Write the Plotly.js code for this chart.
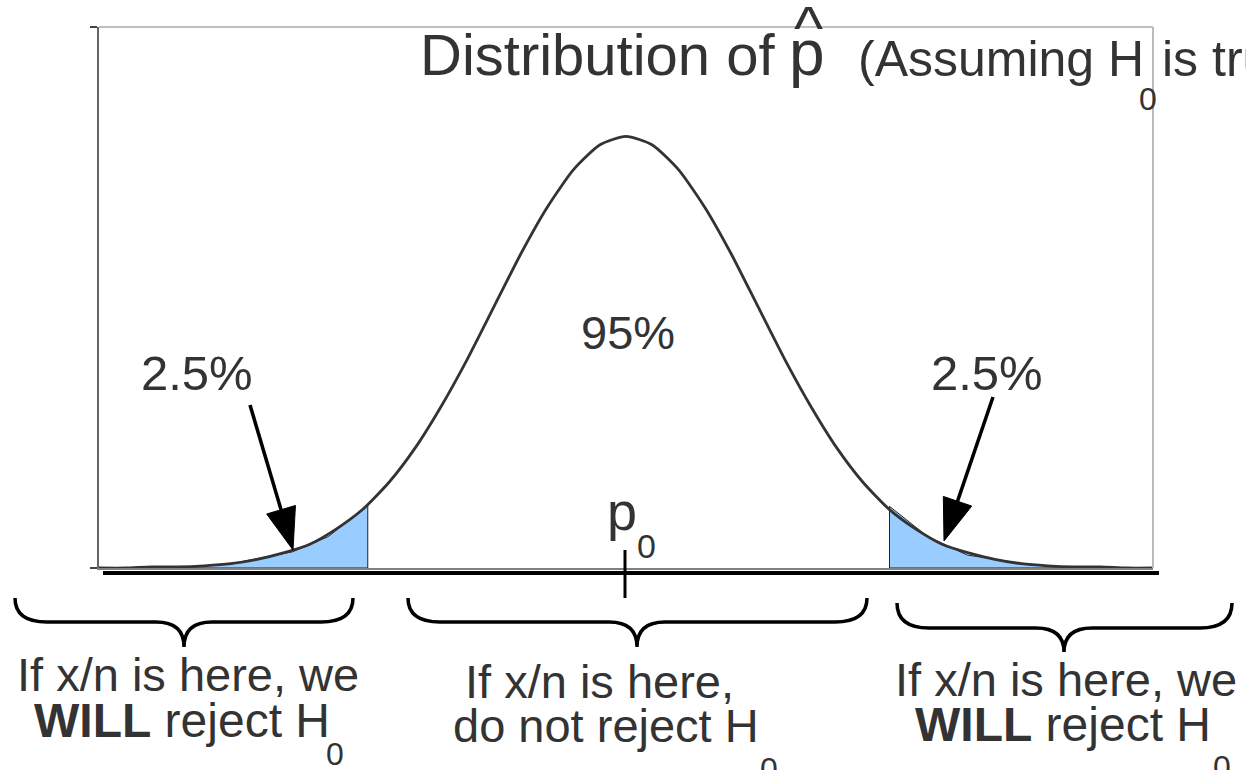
<!DOCTYPE html>
<html>
<head>
<meta charset="utf-8">
<script src="https://cdn.plot.ly/plotly-3.0.1.min.js"></script>
<style>html,body{margin:0;padding:0;background:#fff;}#chart{width:1246px;height:770px;}</style>
</head>
<body>
<div id="chart"></div>
<script>
// ---- data (x in standard-error units around p0, y = density) ----
const curveZ = [-4.0,-3.8,-3.6,-3.4,-3.2,-3.0,-2.8,-2.6,-2.4,-2.2,-2.0,-1.8,-1.6,-1.4,-1.2,-1.0,-0.8,-0.6,-0.4,-0.2,0,
                0.2,0.4,0.6,0.8,1.0,1.2,1.4,1.6,1.8,2.0,2.2,2.4,2.6,2.8,3.0,3.2,3.4,3.6,3.8,4.0];
const curveY = [0.000,0.000,0.001,0.001,0.002,0.004,0.008,0.014,0.022,0.036,0.054,0.079,0.111,0.150,0.194,0.242,0.290,0.333,0.368,0.391,0.399,
                0.391,0.368,0.333,0.290,0.242,0.194,0.150,0.111,0.079,0.054,0.036,0.022,0.014,0.008,0.004,0.002,0.001,0.001,0.000,0.000];
const leftTailZ  = [-3.4, -3.0, -2.53, -2.26, -1.96, -1.96, -3.4];
const leftTailY  = [0, 0.004, 0.015, 0.029, 0.058, 0, 0];
const rightTailZ = [2.0, 2.0, 2.29, 2.59, 3.07, 3.45, 2.0];
const rightTailY = [0, 0.057, 0.029, 0.012, 0.003, 0, 0];
const centreLabel = "95%";
const tailLabel = "2.5%";
const titleMain = "Distribution of";
const titleP = "p";
const titleHat = "^";
const titleNote = "(Assuming H";
const titleNoteEnd = "is true)";
const regionLine1 = ["If x/n is here, we", "If x/n is here,", "If x/n is here, we"];
const regionLine2 = ["<b>WILL</b> reject H", "do not reject H", "<b>WILL</b> reject H"];

// ---- layout geometry (pixels) ----
const L = 99, T = 27, W = 1054, H = 541;
const px = x => (x - L) / W;
const py = y => (T + H - y) / H;
const FONT = "Liberation Sans, Arial, sans-serif";
const INK = "#333";

function txt(text, x, baseline, size, anchor, color) {
  return {text: text, x: px(x), y: py(baseline - 0.3465 * size), xref: "paper", yref: "paper",
          xanchor: anchor || "center", yanchor: "middle", showarrow: false,
          font: {family: FONT, size: size, color: color || INK}};
}

function brace(x0, x1, xm, y0, yh, yc) {
  const P = (x, y) => px(x).toFixed(5) + "," + py(y).toFixed(5);
  const d = "M" + P(x0, y0) + " Q" + P(x0, yh) + " " + P(x0 + 32, yh) +
            " L" + P(xm - 28, yh) + " Q" + P(xm, yh) + " " + P(xm, yc) +
            " Q" + P(xm, yh) + " " + P(xm + 28, yh) +
            " L" + P(x1 - 32, yh) + " Q" + P(x1, yh) + " " + P(x1, y0);
  return {type: "path", xref: "paper", yref: "paper", path: d, line: {color: "#000", width: 3.5}, layer: "above"};
}

function arrow(tx, ty, hx, hy) {
  const dx = hx - tx, dy = hy - ty, len = Math.hypot(dx, dy);
  const ux = dx / len, uy = dy / len;
  const hl = 42, hw = 15;
  const bx = hx - hl * ux, by = hy - hl * uy;
  const qx = -uy * hw, qy = ux * hw;
  const shaft = {type: "line", xref: "paper", yref: "paper", x0: px(tx), y0: py(ty), x1: px(bx + 2 * ux), y1: py(by + 2 * uy),
                 line: {color: "#000", width: 3.5}, layer: "above"};
  const P = (x, y) => px(x).toFixed(5) + "," + py(y).toFixed(5);
  const head = {type: "path", xref: "paper", yref: "paper",
                path: "M" + P(hx, hy) + " L" + P(bx + qx, by + qy) + " L" + P(bx - qx, by - qy) + " Z",
                fillcolor: "#000", line: {color: "#000", width: 1}, layer: "above"};
  return [shaft, head];
}

const traces = [
  {x: leftTailZ, y: leftTailY, type: "scatter", mode: "lines", fill: "toself", fillcolor: "#99ccff",
   line: {color: "#222", width: 1}, hoverinfo: "skip"},
  {x: rightTailZ, y: rightTailY, type: "scatter", mode: "lines", fill: "toself", fillcolor: "#99ccff",
   line: {color: "#222", width: 1}, hoverinfo: "skip"},
  {x: curveZ, y: curveY, type: "scatter", mode: "lines", line: {color: "#333", width: 2.8, shape: "spline", smoothing: 0.6},
   hoverinfo: "skip"}
];

const shapes = [
  // top and right frame
  {type: "line", xref: "paper", yref: "paper", x0: 0, x1: 1, y0: 1, y1: 1, line: {color: "#aaa", width: 1.5}},
  {type: "line", xref: "paper", yref: "paper", x0: 1, x1: 1, y0: 0, y1: 1, line: {color: "#bbb", width: 2}},
  // thick base line
  {type: "line", xref: "paper", yref: "paper", x0: px(103), x1: px(1159), y0: py(573), y1: py(573),
   line: {color: "#000", width: 4}, layer: "above"},
  // p0 tick
  {type: "line", xref: "paper", yref: "paper", x0: px(625), x1: px(625), y0: py(550), y1: py(598),
   line: {color: "#000", width: 3}, layer: "above"},
  brace(15, 353, 184, 598, 622, 647),
  brace(408, 867, 637, 598, 622, 647),
  brace(897, 1232, 1064, 603, 628, 652)
].concat(arrow(250, 405, 293, 550), arrow(993, 397, 944, 541));

const annotations = [
  txt(titleMain, 418, 75, 58, "left"),
  txt(titleP, 807, 75, 64, "center"),
  txt(titleHat, 808, 49, 62, "center"),
  txt(titleNote, 856, 76, 50, "left"),
  txt("0", 1148, 110, 32, "center"),
  txt(titleNoteEnd, 1160, 76, 50, "left"),
  txt(centreLabel, 628, 349, 47),
  txt(tailLabel, 197, 390, 49),
  txt(tailLabel, 987, 390, 49),
  txt("p", 622, 530, 54),
  txt("0", 646, 558, 34),
  txt(regionLine1[0], 188, 691, 47),
  txt(regionLine2[0], 182, 737, 48),
  txt("0", 335, 765, 32),
  txt(regionLine1[1], 599, 698, 47),
  txt(regionLine2[1], 606, 742, 47),
  txt("0", 769, 780, 32),
  txt(regionLine1[2], 1066, 696, 47),
  txt(regionLine2[2], 1063, 741, 48),
  txt("0", 1222, 778, 32)
];

const layout = {
  width: 1246, height: 770,
  margin: {l: L, r: 1246 - L - W, t: T, b: 770 - T - H, pad: 0},
  paper_bgcolor: "#fff", plot_bgcolor: "#fff",
  showlegend: false, hovermode: false,
  xaxis: {range: [-4, 4], showgrid: false, zeroline: false, showticklabels: false, ticks: "",
          showline: true, linecolor: "#808080", linewidth: 1.5, fixedrange: true},
  yaxis: {range: [0, 0.5], showgrid: false, zeroline: false, showticklabels: false, ticks: "outside",
          tickvals: [0, 0.5], ticklen: 7, tickwidth: 1.5, tickcolor: "#444",
          showline: true, linecolor: "#666", linewidth: 2.5, fixedrange: true},
  shapes: shapes,
  annotations: annotations
};

Plotly.newPlot("chart", traces, layout, {staticPlot: true, displayModeBar: false});
</script>
</body>
</html>
